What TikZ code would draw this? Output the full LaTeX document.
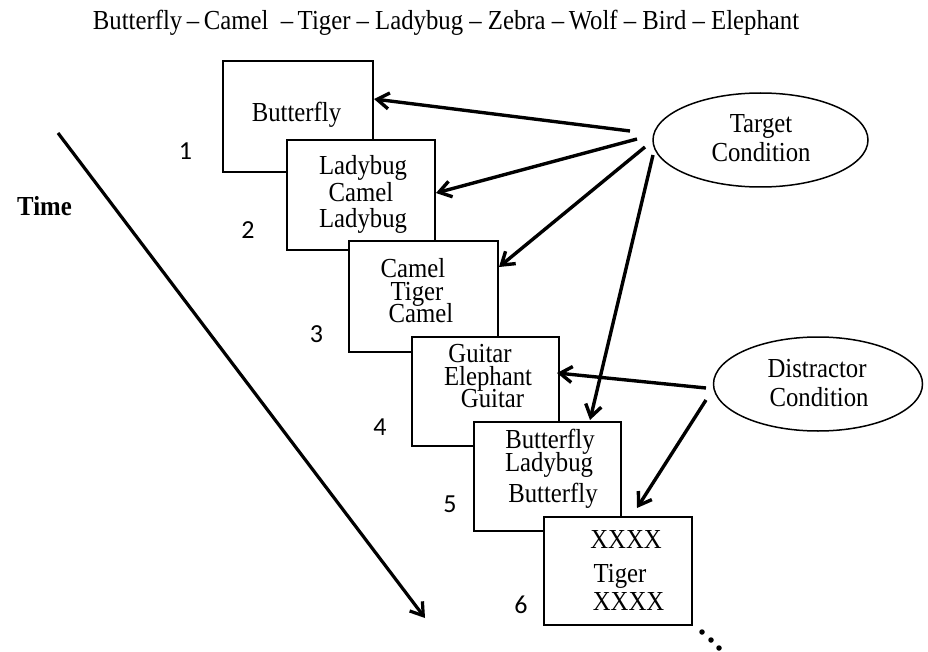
\documentclass[tikz,border=0pt]{standalone}
\usepackage{fontspec}
\setmainfont{Liberation Serif}[FakeStretch=0.9]
\newfontfamily\numfont{Carlito}
\usetikzlibrary{arrows.meta,shapes.geometric}
\tikzset{
  boxst/.style={draw=black, line width=2pt, fill=white, minimum width=148pt, minimum height=110pt, anchor=north west, inner sep=0pt, outer sep=0pt},
  txt/.style={font=\fontsize{27.5}{29}\selectfont, anchor=base, inner sep=0pt},
  num/.style={font=\numfont\fontsize{26}{28}\selectfont, anchor=base, inner sep=0pt},
  ell/.style={draw=black, line width=1.5pt, ellipse, inner sep=0pt},
  arr/.style={line width=3.4pt, -{Straight Barb[length=12pt,width=16pt]}},
  dotst/.style={circle, fill=black, inner sep=0pt, minimum size=5.5pt}
}
\begin{document}
\begin{tikzpicture}[x=1pt,y=-1pt]
\useasboundingbox (0,0) rectangle (928,652);
\fill[white] (0,0) rectangle (928,652);

% title
\node[txt] (title) at (446,30) {Butterfly\,--\,Camel\ \ --\,Tiger -- Ladybug -- Zebra --\,Wolf -- Bird -- Elephant};

% time
\node[txt, font=\bfseries\fontsize{27.5}{29}\selectfont] (time) at (44.5,216) {Time};
\coordinate (ts) at (58,133);
\coordinate (te) at (425,618);
\draw[line width=3.2pt, -{Straight Barb[length=12pt,width=16pt]}] (ts) -- (te);

% boxes
\node[boxst, minimum width=150pt, minimum height=111pt] (b1) at (223,61) {};
\node[boxst] (b2) at (287,140) {};
\node[boxst, minimum width=149pt, minimum height=111pt] (b3) at (349,241) {};
\node[boxst, minimum width=147pt, minimum height=109pt] (b4) at (412,337) {};
\node[boxst, minimum width=147pt, minimum height=109pt] (b5) at (474,422) {};
\node[boxst, minimum width=148pt, minimum height=108pt] (b6) at (544,517) {};

% box texts
\node[txt] (b1a) at (296.5,121.7) {Butterfly};
\node[txt] (b2a) at (363,174.5) {Ladybug};
\node[txt] (b2b) at (361,201.5) {Camel};
\node[txt] (b2c) at (363,228) {Ladybug};
\node[txt] (b3a) at (413,277) {Camel};
\node[txt] (b3b) at (417,300) {Tiger};
\node[txt] (b3c) at (421,322) {Camel};
\node[txt] (b4a) at (480,362) {Guitar};
\node[txt] (b4b) at (488,385) {Elephant};
\node[txt] (b4c) at (492.5,407) {Guitar};
\node[txt] (b5a) at (550,448) {Butterfly};
\node[txt] (b5b) at (549,471) {Ladybug};
\node[txt] (b5c) at (553,502) {Butterfly};
\node[txt] (b6a) at (626,548) {XXXX};
\node[txt] (b6b) at (620,582) {Tiger};
\node[txt] (b6c) at (628.5,610) {XXXX};

% numbers
\node[num] (n1) at (185.5,160) {1};
\node[num] (n2) at (248,239) {2};
\node[num] (n3) at (316.5,342) {3};
\node[num] (n4) at (380,435) {4};
\node[num] (n5) at (450,512) {5};
\node[num] (n6) at (521,613) {6};

% ellipses
\node[ell, minimum width=215pt, minimum height=94pt] (tc) at (760.5,140) {};
\node[txt] (tc1) at (761,133) {Target};
\node[txt] (tc2) at (761,162) {Condition};
\node[ell, minimum width=209pt, minimum height=94pt] (dc) at (818,384) {};
\node[txt] (dc1) at (817,377) {Distractor};
\node[txt] (dc2) at (819,406) {Condition};

% arrow points
\coordinate (t1) at (630,131);
\coordinate (t2) at (637,139);
\coordinate (t3) at (645,147);
\coordinate (t4) at (653,155);
\coordinate (e1) at (374,99);
\coordinate (e2) at (436,193);
\coordinate (e3) at (499,267);
\coordinate (e4) at (590,420);
\coordinate (d1) at (706,388);
\coordinate (d2) at (706,400);
\coordinate (f1) at (557,373);
\coordinate (f2) at (637,508);

\draw[arr] (t1) -- (e1);
\draw[arr] (t2) -- (e2);
\draw[arr] (t3) -- (e3);
\draw[arr] (t4) -- (e4);
\draw[arr] (d1) -- (f1);
\draw[arr] (d2) -- (f2);

% dots
\node[dotst] (p1) at (702,632) {};
\node[dotst] (p2) at (711,640) {};
\node[dotst] (p3) at (719,648) {};
\end{tikzpicture}
\end{document}
